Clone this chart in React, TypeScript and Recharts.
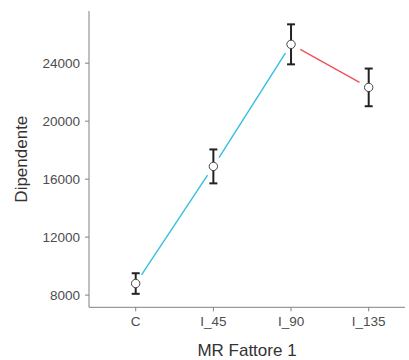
import React from 'react';
import { LineChart, Line, XAxis, YAxis, ErrorBar } from 'recharts';

const categories = ['C', 'I_45', 'I_90', 'I_135'];
const means = [8800, 16880, 25300, 22330];
const errors = [710, 1170, 1380, 1300];
const segmentColors = ['#33bfe0', '#33bfe0', '#f0505a'];
const yTicks = [8000, 12000, 16000, 20000, 24000];

const data = categories.map((c, i) => ({ cat: c, mean: means[i], err: errors[i] }));

const GAP = 10.5;

const SegDot = (props: any) => {
  const { cx, cy, index, points } = props;
  let seg = null;
  if (points && index < points.length - 1) {
    const nx = points[index + 1].x;
    const ny = points[index + 1].y;
    const dx = nx - cx;
    const dy = ny - cy;
    const len = Math.sqrt(dx * dx + dy * dy);
    if (len > 2 * GAP) {
      const ux = dx / len;
      const uy = dy / len;
      seg = (
        <line
          x1={cx + ux * GAP}
          y1={cy + uy * GAP}
          x2={nx - ux * GAP}
          y2={ny - uy * GAP}
          stroke={segmentColors[index]}
          strokeWidth={1.4}
        />
      );
    }
  }
  return (
    <g key={`d${index}`}>
      {seg}
      <circle cx={cx} cy={cy} r={4.2} fill="#ffffff" stroke="#444444" strokeWidth={1} />
    </g>
  );
};

export default function App() {
  return (
    <div style={{ position: 'absolute', left: 0, top: 0 }}>
      <LineChart width={409} height={360} data={data} margin={{ top: 11, right: 4, left: 0, bottom: 0 }}>
        <XAxis
          dataKey="cat"
          padding={{ left: 46.7, right: 36.3 }}
          stroke="#808080"
          tick={{ fill: '#4d4d4d', fontSize: 13.5, fontFamily: 'Liberation Sans, Arial, sans-serif' }}
          tickSize={4}
          tickMargin={5}
          height={52.7}
          label={{ value: 'MR Fattore 1', position: 'insideBottom', offset: 4, fill: '#333333', fontSize: 17, fontFamily: 'Liberation Sans, Arial, sans-serif' }}
        />
        <YAxis
          type="number"
          domain={[7160, 27600]}
          ticks={yTicks}
          stroke="#808080"
          width={89}
          tick={{ fill: '#4d4d4d', fontSize: 13.5, fontFamily: 'Liberation Sans, Arial, sans-serif' }}
          tickSize={4}
          tickMargin={5}
          allowDataOverflow
          label={{ value: 'Dipendente', angle: -90, position: 'insideLeft', offset: 21, fill: '#333333', fontSize: 17, fontFamily: 'Liberation Sans, Arial, sans-serif', style: { textAnchor: 'middle' } }}
        />
        <Line
          dataKey="mean"
          stroke="none"
          isAnimationActive={false}
          dot={(p: any) => <SegDot {...p} />}
          activeDot={false}
        >
          <ErrorBar dataKey="err" direction="y" width={4} stroke="#222222" strokeWidth={2} />
        </Line>
      </LineChart>
    </div>
  );
}
